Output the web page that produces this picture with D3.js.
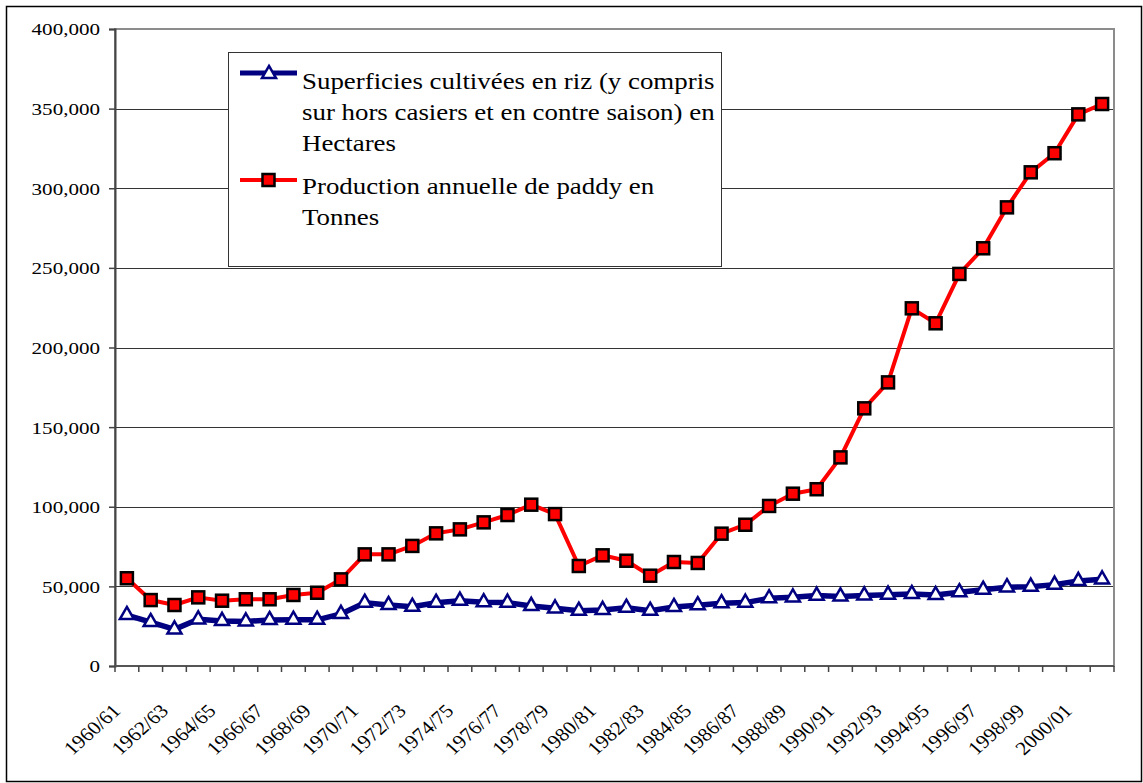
<!DOCTYPE html>
<html>
<head>
<meta charset="utf-8">
<script src="https://cdn.jsdelivr.net/npm/d3@7"></script>
<style>
	body { margin: 0; background: #fff; }
	svg text { font-family: "Liberation Serif", "Times New Roman", "DejaVu Serif", serif; fill: #000; }
</style>
</head>
<body>
<svg id="plot" width="1143" height="783"></svg>
<script>

// seasons 1960/61 ... 2001/02
const SEASONS = d3.range(1960, 2002).map(y => y + '/' + String((y + 1) % 100).padStart(2, '0'));

// hectares (triangles)
const SUPERFICIES = [
	32000, 27600, 23000, 29300, 28300, 28000, 28900, 29000, 29000, 32700,
	39700, 38300, 37200, 39700, 41000, 40000, 39800, 37700, 36200, 34700,
	35200, 36600, 34700, 37000, 38100, 39400, 39800, 42500, 43100, 44200,
	43700, 44300, 44800, 45200, 44600, 46300, 47900, 49400, 49800, 51100,
	53400, 54400
];

// tonnes (squares)
const PRODUCTION = [
	55100, 41400, 38300, 43100, 41000, 41900, 41900, 44600, 46000, 54400,
	70100, 70100, 75400, 83300, 85800, 90200, 94800, 101300, 95400, 62800,
	69500, 66100, 56700, 65300, 64700, 83100, 88700, 100500, 108200, 111000,
	131000, 161800, 178100, 224600, 215200, 246200, 262300, 288000, 310000, 322000,
	346400, 352900
];

const Y_TICKS = [0, 50000, 100000, 150000, 200000, 250000, 300000, 350000, 400000];

const LEGEND_SUP = ['Superficies cultivées en riz (y compris', 'sur hors casiers et en contre saison) en', 'Hectares'];
const LEGEND_PROD = ['Production annuelle de paddy en', 'Tonnes'];

const MARGIN = { top: 29, right: 29, bottom: 117, left: 115 };
const STRETCH = 1.24; // the original picture is a bit wider than tall

const svg = d3.select('#plot');
const width = 1143 - MARGIN.left - MARGIN.right;
const height = 783 - MARGIN.top - MARGIN.bottom;

// outer frame
svg.append('rect')
	.attr('x', 6.5).attr('y', 6.5)
	.attr('width', 1135).attr('height', 775)
	.attr('fill', 'none').attr('stroke', '#000').attr('stroke-width', 1.5);

const g = svg.append('g').attr('transform', `translate(${MARGIN.left},${MARGIN.top})`);

const x = d3.scaleBand().domain(SEASONS).range([0, width]);
const y = d3.scaleLinear().domain([0, 400000]).range([height, 0]);
const cx = d => x(d) + x.bandwidth() / 2;

// grid lines
g.append('g')
	.selectAll('line')
	.data(Y_TICKS.slice(1, -1))
	.enter()
	.append('line')
		.attr('x1', 0).attr('x2', width)
		.attr('y1', d => Math.round(y(d)) + 0.5).attr('y2', d => Math.round(y(d)) + 0.5)
		.attr('stroke', '#333').attr('stroke-width', 1);

// plot area border
g.append('rect')
	.attr('x', 0).attr('y', 0)
	.attr('width', width).attr('height', height)
	.attr('fill', 'none').attr('stroke', '#8c8c8c').attr('stroke-width', 2);

// y axis
const yAxis = g.append('g')
	.call(d3.axisLeft(y).tickValues(Y_TICKS).tickSize(6).tickFormat(d3.format(',')));
yAxis.select('.domain').attr('stroke', '#444').attr('stroke-width', 2);
yAxis.selectAll('.tick line').attr('stroke', '#444').attr('stroke-width', 1.5);
yAxis.selectAll('text')
	.attr('x', 0).attr('dy', '0.35em')
	.attr('font-size', 17).attr('font-family', '"Liberation Serif", "Times New Roman", "DejaVu Serif", serif')
	.attr('transform', `translate(-15,0) scale(${STRETCH},1)`);

// x axis: ticks between categories
const xAxis = g.append('g').attr('transform', `translate(0,${height})`);
xAxis.append('line')
	.attr('x1', 0).attr('x2', width).attr('y1', 0).attr('y2', 0)
	.attr('stroke', '#555').attr('stroke-width', 2);
xAxis.selectAll('line.tk')
	.data(SEASONS.concat(['end']))
	.enter()
	.append('line')
		.classed('tk', true)
		.attr('x1', (d, i) => i * x.step()).attr('x2', (d, i) => i * x.step())
		.attr('y1', 0).attr('y2', 6)
		.attr('stroke', '#444').attr('stroke-width', 1.5);

xAxis.selectAll('text')
	.data(SEASONS.filter((d, i) => i % 2 === 0))
	.enter()
	.append('text')
		.text(d => d)
		.attr('font-size', 19)
		.attr('text-anchor', 'end')
		.attr('transform', d => `translate(${cx(d) - 5},${46}) scale(1.12,1) rotate(-45)`);

// series lines
const line = d3.line().x(d => cx(d.season)).y(d => y(d.value));
const supData = SEASONS.map((s, i) => ({ season: s, value: SUPERFICIES[i] }));
const prodData = SEASONS.map((s, i) => ({ season: s, value: PRODUCTION[i] }));

g.append('path').datum(supData)
	.attr('d', line).attr('fill', 'none')
	.attr('stroke', '#000080').attr('stroke-width', 5.5).attr('stroke-linejoin', 'round');

g.append('path').datum(prodData)
	.attr('d', line).attr('fill', 'none')
	.attr('stroke', '#ff0000').attr('stroke-width', 4).attr('stroke-linejoin', 'round');

const tri = d3.symbol().type(d3.symbolTriangle).size(85);

g.append('g').selectAll('path')
	.data(supData)
	.enter()
	.append('path')
		.attr('d', tri)
		.attr('transform', d => `translate(${cx(d.season)},${y(d.value)})`)
		.attr('fill', '#fff').attr('stroke', '#000080').attr('stroke-width', 2.5);

g.append('g').selectAll('rect')
	.data(prodData)
	.enter()
	.append('rect')
		.attr('x', d => cx(d.season) - 6).attr('y', d => y(d.value) - 6)
		.attr('width', 12).attr('height', 12)
		.attr('fill', '#ff0000').attr('stroke', '#000').attr('stroke-width', 2.5);

// legend
const lg = svg.append('g').attr('transform', 'translate(228,52)');
lg.append('rect')
	.attr('x', 0.5).attr('y', 0.5).attr('width', 493).attr('height', 214)
	.attr('fill', '#fff').attr('stroke', '#333').attr('stroke-width', 1);

lg.append('line').attr('x1', 12).attr('x2', 69).attr('y1', 21).attr('y2', 21)
	.attr('stroke', '#000080').attr('stroke-width', 5);
lg.append('path').attr('d', tri).attr('transform', 'translate(41,22)')
	.attr('fill', '#fff').attr('stroke', '#000080').attr('stroke-width', 2.5);

lg.append('line').attr('x1', 12).attr('x2', 69).attr('y1', 128).attr('y2', 128)
	.attr('stroke', '#ff0000').attr('stroke-width', 4);
lg.append('rect').attr('x', 34.5).attr('y', 122).attr('width', 12).attr('height', 12)
	.attr('fill', '#ff0000').attr('stroke', '#000').attr('stroke-width', 2.5);

const lt = lg.append('g').attr('transform', 'translate(74,0) scale(1.12,1)');

lt.append('g').selectAll('text')
	.data(LEGEND_SUP)
	.enter()
	.append('text')
		.text(d => d)
		.attr('x', 0).attr('y', (d, i) => 36.7 + i * 31)
		.attr('font-size', 24);

lt.append('g').selectAll('text')
	.data(LEGEND_PROD)
	.enter()
	.append('text')
		.text(d => d)
		.attr('x', 0).attr('y', (d, i) => 141.7 + i * 31)
		.attr('font-size', 24);

</script>
</body>
</html>
